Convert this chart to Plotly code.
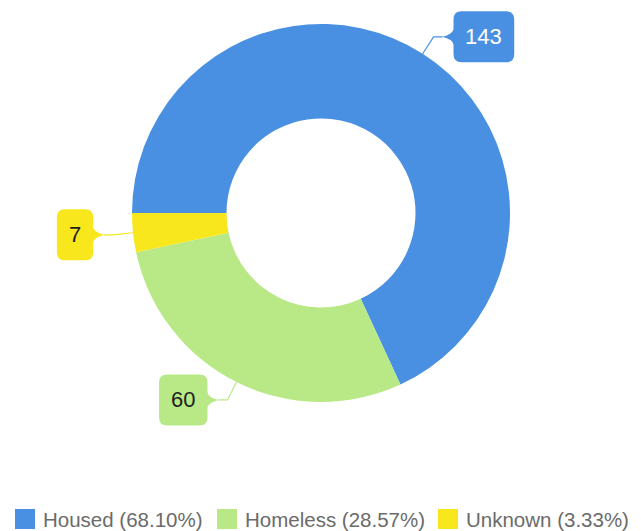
import math
import plotly.graph_objects as go

# Data
labels = ["Housed", "Homeless", "Unknown"]
values = [143, 60, 7]
colors = ["#4A90E2", "#B8E986", "#F8E71C"]
callout_text_colors = ["#FFFFFF", "#1E1E1E", "#1E1E1E"]

# Canvas and donut geometry (pixels)
W, H = 641, 531
CX, CY, R = 321, 213, 189
HOLE = 0.5
START = 270  # first slice starts at 9 o'clock and runs clockwise

FONT = "Liberation Sans, Arial, sans-serif"

total = sum(values)

fig = go.Figure()

# Invisible pixel-space axes used to place the callouts and legend
fig.add_trace(go.Scatter(x=[], y=[], showlegend=False, hoverinfo="skip"))

fig.add_trace(go.Pie(
    labels=labels,
    values=values,
    hole=HOLE,
    rotation=START,
    direction="clockwise",
    sort=False,
    marker=dict(colors=colors, line=dict(width=0)),
    textinfo="none",
    hoverinfo="label+value+percent",
    showlegend=False,
    domain=dict(x=[(CX - R) / W, (CX + R) / W],
                y=[1 - (CY + R) / H, 1 - (CY - R) / H]),
))

shapes = []
annotations = []

# Callout bubbles with leader lines, one per slice
LEAD = 20      # radial leg of the leader line
HLEG = 9       # horizontal leg of the leader line
TAIL = 11      # depth of the bubble's pointer
BH = 51        # bubble height
RR = 8         # bubble corner radius
LABEL_SIZE = 22

angle = START
for lab, v, col, tcol in zip(labels, values, colors, callout_text_colors):
    span = 360.0 * v / total
    mid = math.radians(angle + span / 2)
    angle += span
    s, c = math.sin(mid), math.cos(mid)
    ex, ey = CX + R * s, CY - R * c
    bx, by = ex + LEAD * s, ey - LEAD * c
    side = 1 if s >= 0 else -1
    tipx = bx + side * HLEG
    txt = str(v)
    bw = 0.556 * LABEL_SIZE * len(txt) + 24
    if side > 0:
        x0 = tipx + TAIL
        x1 = x0 + bw
    else:
        x1 = tipx - TAIL
        x0 = x1 - bw
    y0, y1 = by - BH / 2, by + BH / 2

    if side > 0:
        path = (f"M{x0+RR},{y0} L{x1-RR},{y0} Q{x1},{y0} {x1},{y0+RR} "
                f"L{x1},{y1-RR} Q{x1},{y1} {x1-RR},{y1} L{x0+RR},{y1} "
                f"Q{x0},{y1} {x0},{y1-RR} L{x0},{by+8} Q{x0},{by+3} {tipx},{by} "
                f"Q{x0},{by-3} {x0},{by-8} L{x0},{y0+RR} Q{x0},{y0} {x0+RR},{y0} Z")
    else:
        path = (f"M{x0+RR},{y0} L{x1-RR},{y0} Q{x1},{y0} {x1},{y0+RR} "
                f"L{x1},{by-8} Q{x1},{by-3} {tipx},{by} Q{x1},{by+3} {x1},{by+8} "
                f"L{x1},{y1-RR} Q{x1},{y1} {x1-RR},{y1} L{x0+RR},{y1} "
                f"Q{x0},{y1} {x0},{y1-RR} L{x0},{y0+RR} Q{x0},{y0} {x0+RR},{y0} Z")

    shapes.append(dict(type="path", xref="x", yref="y",
                       path=f"M{ex},{ey} L{bx},{by} L{tipx},{by}",
                       line=dict(color=col, width=1.2), layer="above"))
    shapes.append(dict(type="path", xref="x", yref="y", path=path,
                       fillcolor=col, line=dict(width=0), layer="above"))
    annotations.append(dict(x=(x0 + x1) / 2, y=by, xref="x", yref="y",
                            text=txt, showarrow=False,
                            xanchor="center", yanchor="middle",
                            font=dict(family=FONT, size=LABEL_SIZE, color=tcol)))

# Legend along the bottom
legend_x = [15, 217, 438]
SQ = 20
LEG_Y = 519
for lab, v, col, lx in zip(labels, values, colors, legend_x):
    pct = 100.0 * v / total
    shapes.append(dict(type="rect", xref="x", yref="y",
                       x0=lx, x1=lx + SQ, y0=LEG_Y - SQ / 2, y1=LEG_Y + SQ / 2,
                       fillcolor=col, line=dict(width=0), layer="above"))
    annotations.append(dict(x=lx + SQ + 6, y=LEG_Y, xref="x", yref="y",
                            text=f"{lab} ({pct:.2f}%)", showarrow=False,
                            xanchor="left", yanchor="middle",
                            font=dict(family=FONT, size=20.5, color="#6b6b6b")))

fig.update_layout(
    width=W, height=H,
    margin=dict(l=0, r=0, t=0, b=0),
    paper_bgcolor="white",
    plot_bgcolor="white",
    xaxis=dict(range=[0, W], visible=False, fixedrange=True, domain=[0, 1]),
    yaxis=dict(range=[H, 0], visible=False, fixedrange=True, domain=[0, 1]),
    shapes=shapes,
    annotations=annotations,
    showlegend=False,
)

fig.write_html("out.html")
